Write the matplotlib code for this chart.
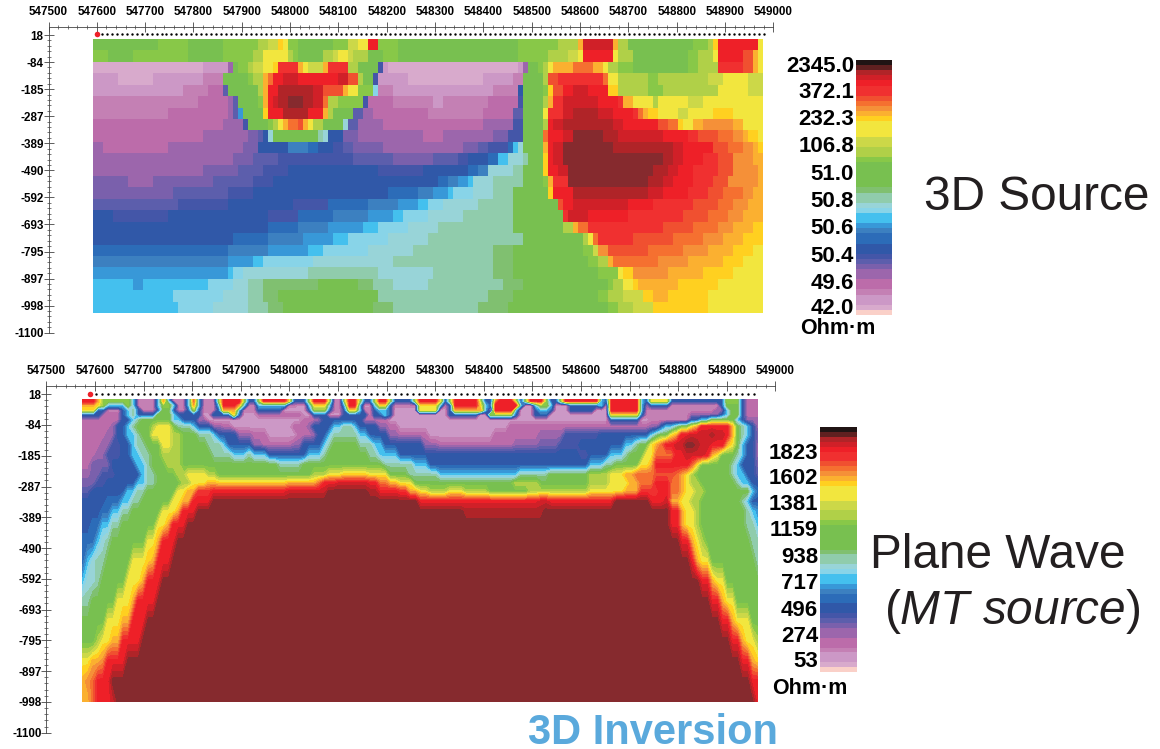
import numpy as np
import matplotlib
matplotlib.use("Agg")
import matplotlib.pyplot as plt
from matplotlib.colors import ListedColormap, BoundaryNorm

W, H = 1160, 749
plt.rcParams['font.family'] = ['Liberation Sans', 'DejaVu Sans']
plt.rcParams['mathtext.fontset'] = 'custom'
plt.rcParams['mathtext.it'] = 'Liberation Sans:italic'
plt.rcParams['mathtext.rm'] = 'Liberation Sans'

# colour bands, low to high, one letter each
band_names = "abcdefghijklmnopqrstuvwxyzABCDEFGHI"
band_colors = ["#FAD0C8", "#D8AACC", "#CC98C6", "#C480B4", "#BC6CAA", "#9C66AC", "#7A60AC",
               "#5C5EAC", "#4456A8", "#3058A8", "#2C6CB8", "#3C80C0", "#3898D8", "#44C0EE",
               "#88D4E8", "#98D4D8", "#90CCAC", "#80C070", "#78C050", "#88C848", "#B0D048",
               "#CCD848", "#F2E63E", "#FFD020", "#FBB030", "#F59038", "#F57030", "#F05030",
               "#F03030", "#EE2028", "#D02028", "#B02428", "#862A2E", "#602020", "#201414"]
cbar_levels = "abccdeeffghijjkklmnnopqqrssssstuuvvwwwxyzABCCDEFHI"

x_ticks = np.arange(547500, 549001, 100)
depth_labels = ["18", "-84", "-185", "-287", "-389", "-490", "-592", "-693", "-795", "-897", "-998", "-1100"]

# 3D source section: each row lists band + last column of that band (134 columns)
source_rows = [
    "s12 t18 s25 t32 u34 v36 x37 w38 t40 s47 t50 v52 w54 D56 t60 s84 t92 u96 y97 E103 y104 u106 s119 t122 u123 x124 D132 w133",
    "t2 s7 t18 s25 t31 u33 w38 u39 t40 s45 u47 v48 w50 v51 u54 s57 t60 s84 t90 u94 v96 w97 D103 w104 u107 s118 t120 u123 w124 D129 B131 y132 w133",
    "b21 c26 f27 s28 t30 u31 v33 w35 x36 C40 y41 w42 v45 y46 C50 u52 s56 i57 c58 b84 c85 f86 s88 t89 u90 w91 y95 A99 y101 w102 u104 t107 s118 t120 u124 C129 B131 y132 w133",
    "c4 b11 c21 d25 s30 t31 u33 y34 A35 D37 E40 D48 E50 B52 u53 s55 i56 c62 b77 c83 d85 s89 u90 B92 C101 A102 w104 u110 t112 u122 v125 w130 v133",
    "c17 d22 e25 h26 s32 u33 y34 D36 F43 E45 B49 y50 w52 t55 o56 d59 c79 d84 j85 s89 t90 x91 B93 D95 E98 D102 x104 u110 t113 u124 w130 v133",
    "d20 e26 f27 h28 s32 t33 y34 D35 E36 F38 G41 F43 E45 A46 u48 t53 i54 e59 d67 c69 d78 e84 i85 s89 u90 y91 C93 E100 D104 C105 y107 w111 u112 w118 v121 w133",
    "d14 e26 f27 h28 m29 s33 x34 D37 F42 D45 y46 u47 s51 h53 f55 e66 d77 e83 h85 s89 w90 C93 E95 F100 E103 D107 C108 A109 y110 x112 w116 v118 w123 x127 w133",
    "e25 f29 i30 s34 t35 u36 w37 y38 A40 B41 y42 w43 u45 s49 p50 h52 f57 e77 f83 i85 s89 u90 D91 E93 F103 E105 D112 B114 A116 x117 w119 y121 z127 y129 w133",
    "e21 f30 g32 h33 j34 p35 s44 q45 p46 j49 g52 f65 e69 f79 g82 i85 s89 A90 D93 E95 G101 F104 E113 D118 C120 B124 A127 z129 y130 x132 w133",
    "f1 e14 f29 g32 j38 l42 k44 j47 i49 h51 g57 f73 g76 h78 i82 k83 n84 p85 s89 y90 D91 E93 G103 F115 E117 D123 B126 A129 z131 y132 x133",
    "f27 g31 h36 i51 h59 g67 h72 i74 j78 k80 n82 p85 q86 s89 x90 D91 E93 G113 F115 E117 D121 C124 B127 z131 y133",
    "f21 g28 h33 i38 j56 i65 j74 k76 l78 p83 q85 s89 x90 D92 E94 G111 F114 E116 D119 C124 B127 z132 y133",
    "g6 f11 g23 h31 i35 j68 k70 l72 m74 n75 p79 q85 s89 t90 y91 C94 G110 F113 E115 D119 C123 B126 z132 y133",
    "g15 h26 i31 j58 k64 l67 m70 n71 o75 p79 q83 s90 x91 D95 F110 E113 D118 C122 B125 A129 z131 y133",
    "h16 i26 j39 i46 k54 l60 m64 n66 o69 p76 q83 s92 B93 D95 E106 D111 C119 B124 A127 z130 y133",
    "j3 i14 j34 i40 k47 l54 m59 n61 o66 p73 q83 s93 C94 E98 D106 C117 B122 A126 z129 y133",
    "j34 k40 l46 m53 n56 o62 p68 q83 s93 u95 y96 A98 C113 B119 A124 z127 y131 x133",
    "j27 k34 l41 m47 n50 o58 p66 q85 s97 u98 w99 A100 C107 B115 A121 z125 y129 x133",
    "k26 l34 m42 n45 o54 p63 q79 r83 s97 t99 v100 z102 B110 A117 z122 y127 x131 w133",
    "l26 m31 n33 o43 p59 q79 r83 s98 t100 u102 y103 A112 z118 y125 x129 w133",
    "m26 n27 o29 p42 q56 p67 q79 r83 s100 t104 w105 x107 z114 y121 x127 w133",
    "n7 m9 n22 o27 p30 q33 r44 s52 r55 q59 p66 q81 r85 s102 t103 u105 w107 x108 y116 x124 w133",
    "n15 o25 p30 q33 r36 s56 q78 r83 s100 t102 u105 v109 x111 y114 x122 w133",
    "n16 o23 p30 q34 r37 s55 r59 q76 r82 s102 t104 u107 v111 x122 w133",
]

# plane wave section: same coding (135 columns), rows at wave_depths
wave_depths = [2, -4, -19, -35, -50, -67, -89, -116, -149, -182, -215, -248, -276, -303, -336, -369,
               -413, -468, -534, -600, -666, -732, -798, -864, -930, -998]
wave_rows = [
    "D2 y3 t9 n10 d14 n15 y16 n17 d20 n21 A22 n23 d26 t27 D31 t32 j34 t35 D40 w41 j44 t45 D48 t49 d51 t52 D54 t55 j57 t58 D60 t61 j65 t66 D70 w71 j72 t73 D78 t79 j81 y82 D85 t86 j87 t88 D91 t92 j94 t95 D102 n103 j104 D110 n111 j112 w116 j127 t130 j131 e134",
    "y2 w3 t4 n8 t9 n10 d14 n15 t17 n18 d20 n21 y22 n23 d26 n27 D30 y31 n32 d34 n35 n40 d42 c44 n45 w48 n49 d51 n52 D54 n55 c57 n58 w60 j61 d66 w70 n71 d72 j73 D78 w79 n80 j81 D86 n87 c89 n90 t92 n93 c96 j102 n103 d104 D110 n111 f112 j116 d125 c126 j127 s130 j131 e134",
    "w2 j4 d7 j8 n9 q10 j11 d14 j15 s17 j18 d20 j21 t22 j23 d26 j27 y30 n31 d34 j39 c44 j45 t48 j49 d51 j52 w54 n55 d57 j58 n60 j61 c66 w70 c72 j73 y79 n80 c81 D85 n86 c89 j90 n92 j93 c96 j101 c104 D110 n111 d125 f127 n128 s130 j131 e134",
    "j3 e7 j8 n9 q10 j14 s17 n18 j23 c25 j29 w30 j31 c34 e43 c45 j48 c51 j56 c57 j59 n60 j61 c72 j78 c80 t85 j86 c89 j92 c104 w110 j111 d120 f126 j127 n128 s130 j131 e134",
    "e7 j9 n10 q11 s17 n19 j22 e23 f24 c43 e46 f47 j55 e60 c104 j110 c112 d120 j122 n124 s129 n130 j131 f134",
    "e5 f6 j8 n9 q10 s13 u14 w17 s18 q21 n22 j25 f27 e29 c41 e44 f45 j49 n51 q53 n54 j58 f60 e62 c84 e112 f114 j115 n117 q118 s120 w121 y122 D128 y129 s130 q131 n132 j133 f134",
    "e4 f6 j8 n10 q11 s13 w17 u19 s22 q25 n26 j30 f33 e36 c42 e45 f46 j48 n49 q54 n56 j60 f62 e68 c81 e90 f95 i102 j112 n113 q114 s116 w117 y118 D120 E124 F125 E127 D128 y129 s130 q131 n132 j133 g134",
    "e3 f5 i7 j9 n10 q12 s15 w17 u19 s24 q27 n28 j33 f35 e41 f43 j47 n48 q49 s54 q57 n59 j67 f70 e85 f90 g94 i98 j107 n109 q110 s112 w113 y114 A115 D117 E119 G121 F122 E124 D127 y128 w129 s130 n131 j133 f134",
    "e2 f4 i7 j9 n11 q13 s15 u19 s25 q29 n32 q33 n36 j44 n47 q48 s56 q58 n62 j98 i100 j104 n107 q108 s111 w113 A117 D119 E123 D124 y125 w126 s129 q130 n131 j133 f134",
    "e1 g5 j10 n12 q13 s16 u19 s38 q43 s59 q65 n68 j100 n103 q105 s110 w112 y113 D120 A121 w122 s128 q129 n130 j133 g134",
    "f1 g3 i6 j11 n12 q14 s18 u20 w24 u26 s45 u48 w51 x56 w60 s64 q70 n86 q92 s100 u104 w107 y109 A113 B117 A118 y119 w120 u121 s128 q129 n131 j133 h134",
    "g2 i4 j10 n12 q14 s19 u21 w24 y26 x40 y46 A47 D50 E56 D58 A60 y62 w65 s85 u90 s100 u104 w108 y110 A113 D116 A118 y119 w120 u122 s129 q130 n132 j134",
    "h1 j8 n10 q12 s18 w20 y22 C25 D40 E48 G56 F58 D62 C64 y66 w68 u72 w75 u80 s88 u100 w107 y110 C114 D116 A118 y119 w121 u123 s132 n133 k134",
    "j4 k7 n9 q11 s17 w19 y21 D25 G66 D90 E92 D105 G112 D115 E116 y118 w120 u122 s130 q131 n132 j134",
    "j3 k5 n7 q9 s15 w18 y19 D22 G75 F91 G116 D118 y119 w121 u122 s131 q132 n133 m134",
    "j1 k3 n5 q7 s14 w16 y17 D20 G116 D118 y119 w121 u122 s131 q133 n134",
    "k2 n3 p4 q5 s12 w14 y15 D18 G118 D120 y121 w122 u123 s132 q134",
    "k0 n1 p2 q4 s9 w12 x13 y14 D17 G120 D121 y122 w124 s133 q134",
    "n0 p2 q3 s8 w11 y12 D15 G122 D124 y125 w127 s134",
    "q1 s6 w9 y10 D14 G124 D126 y127 w129 s134",
    "s4 w7 y9 D12 G126 D128 y129 w132 s134",
    "s2 u3 w5 y7 D11 G128 D130 y131 w133 u134",
    "w1 y3 z4 D8 G130 D132 y133 x134",
    "y0 z1 A2 D5 G132 D134",
    "y1 A2 D5 E6 G133 D134",
]
wave_rows = [wave_rows[0]] + wave_rows  # the top skin row repeats at the surface


def decode(rows, ncols):
    out = np.zeros((len(rows), ncols))
    for r, row in enumerate(rows):
        start = 0
        for tok in row.split():
            end = int(tok[1:])
            out[r, start:end + 1] = band_names.index(tok[0])
            start = max(start, end + 1)
        if start < ncols:
            out[r, start:] = out[r, start - 1]
    return out


cmap = ListedColormap(band_colors)
norm = BoundaryNorm(np.arange(-0.5, len(band_colors)), len(band_colors))


def add_axes_px(fig, x0, y0, x1, y1):
    return fig.add_axes([x0 / W, 1 - y1 / H, (x1 - x0) / W, (y1 - y0) / H])


def section_axes(fig, x0, y0, x1, y1, top):
    ax = add_axes_px(fig, x0, y0, x1, y1)
    ax.set_xlim(547500, 549000)
    ax.set_ylim(-1100, top)
    ax.spines[['right', 'bottom']].set_visible(False)
    ax.spines[['top', 'left']].set_linewidth(0.6)
    ax.spines[['top', 'left']].set_color('#444444')
    ax.patch.set_visible(False)
    ax.xaxis.tick_top()
    ax.set_xticks(x_ticks)
    ax.set_xticklabels([str(v) for v in x_ticks], fontsize=8.4, fontweight='bold')
    ax.set_xticks(np.arange(547500, 549001, 20), minor=True)
    ax.set_yticks(np.linspace(18, -1100, 12))
    ax.set_yticklabels(depth_labels, fontsize=8.4, fontweight='bold')
    ax.set_yticks(np.linspace(18, -1100, 56), minor=True)
    ax.tick_params(which='major', direction='inout', length=7, width=0.6, pad=0, color='#444444')
    ax.tick_params(which='minor', direction='inout', length=3.5, width=0.5, color='#444444')
    ax.tick_params(axis='x', which='major', pad=3)
    return ax


def colorbar(fig, x0, y0, x1, y1):
    ax = add_axes_px(fig, x0, y0, x1, y1)
    vals = np.array([[band_names.index(c)] for c in cbar_levels])
    ax.pcolormesh(vals, cmap=cmap, norm=norm)
    ax.axis('off')


def label(x, y, s, **kw):
    kw.setdefault('va', 'center')
    fig.text(x / W, 1 - y / H, s, **kw)


fig = plt.figure(figsize=(W / 100, H / 100), dpi=100)

# top section
ax1 = section_axes(fig, 48.5, 27.3, 773.3, 332.7, 47)
grid1 = decode(source_rows, 134)
xe1 = np.linspace(547592, 548978, grid1.shape[1] + 1)
ye1 = np.linspace(3, -1026, grid1.shape[0] + 1)
ax1.pcolormesh(xe1, ye1, grid1, cmap=cmap, norm=norm)
st1 = np.arange(547600, 548985, 10.3)
ax1.scatter(st1, np.full(st1.shape, 20.5), s=3, c='k', linewidths=0, clip_on=False)
ax1.scatter(st1[:1], [20.5], s=16, c='#EE2028', linewidths=0, clip_on=False, zorder=3)

# bottom section
ax2 = section_axes(fig, 46.3, 386, 775.3, 732.7, 45)
grid2 = decode(wave_rows, 135)
xc2 = np.linspace(547575.5, 548963, grid2.shape[1])
ax2.contourf(xc2, wave_depths, grid2, levels=np.arange(-0.5, len(band_colors)), cmap=cmap, norm=norm)
st2 = np.arange(547590, 548960, 12.3)
ax2.scatter(st2, np.full(st2.shape, 20), s=3, c='k', linewidths=0, clip_on=False)
ax2.scatter(st2[:1], [20], s=16, c='#EE2028', linewidths=0, clip_on=False, zorder=3)

# colour bars and their labels
colorbar(fig, 856, 60, 892, 315)
colorbar(fig, 820, 427, 857, 672)
source_labels = ["2345.0", "372.1", "232.3", "106.8", "51.0", "50.8", "50.6", "50.4", "49.6", "42.0"]
source_label_y = [66.7, 92.7, 119.3, 146.7, 174.3, 201.7, 229, 256, 283.3, 308]
wave_labels = ["1823", "1602", "1381", "1159", "938", "717", "496", "274", "53"]
wave_label_y = [453.3, 479, 505, 531, 557.3, 583.7, 610, 636, 661.7]
for s, y in zip(source_labels, source_label_y):
    label(854, y, s, ha='right', fontsize=16, fontweight='bold')
for s, y in zip(wave_labels, wave_label_y):
    label(818, y, s, ha='right', fontsize=16, fontweight='bold')
label(838, 329, "Ohm·m", ha='center', fontsize=15.5, fontweight='bold')
label(810, 688, "Ohm·m", ha='center', fontsize=15.5, fontweight='bold')

label(924, 198, "3D Source", ha='left', fontsize=34.4, color='#231F20')
label(870, 555, "Plane Wave", ha='left', fontsize=34.4, color='#231F20')
label(884, 612, r"($\mathit{MT\ source}$)", ha='left', fontsize=34.4, color='#231F20')
label(653, 744, "3D Inversion", ha='center', va='baseline', fontsize=30, fontweight='bold', color='#5AA9DC')

fig.savefig('out.png', dpi=100)
